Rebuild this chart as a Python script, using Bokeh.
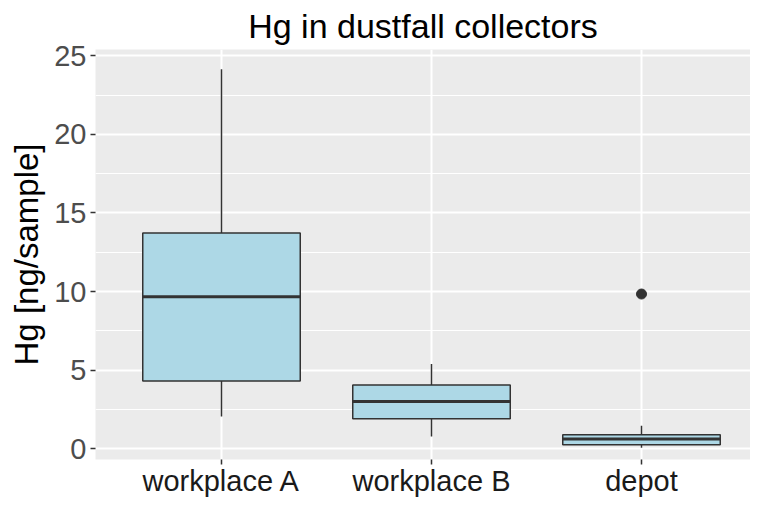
from bokeh.plotting import figure
from bokeh.models import Range1d, FixedTicker, ColumnDataSource
from bokeh.embed import file_html
from bokeh.resources import INLINE

# ---- data ----
categories = ["workplace A", "workplace B", "depot"]
positions = [1, 2, 3]
whisker_low = [2.04, 0.78, 0.05]
q1 = [4.3, 1.9, 0.25]
median = [9.67, 3.0, 0.61]
q3 = [13.73, 4.05, 0.89]
whisker_high = [24.15, 5.38, 1.46]
outlier_x = [3]
outlier_y = [9.84]
y_ticks = [0, 5, 10, 15, 20, 25]
y_minor = [2.5, 7.5, 12.5, 17.5, 22.5]

BOX_W = 0.75
FONT = "Liberation Sans"

src = ColumnDataSource(dict(
    x=positions, lo=whisker_low, q1=q1, med=median, q3=q3, hi=whisker_high,
    left=[p - BOX_W / 2 for p in positions],
    right=[p + BOX_W / 2 for p in positions],
))

p = figure(width=750, height=500, output_backend="svg", toolbar_location=None,
           x_range=Range1d(0.4, 0.4 + 655 / 210), y_range=Range1d(-0.69, 25.4),
           min_border_left=95, min_border_right=0, min_border_top=46, min_border_bottom=41,
           title="Hg in dustfall collectors")

p.background_fill_color = "#EBEBEB"
p.border_fill_color = "white"
p.outline_line_color = None

# title
p.title.text_font = FONT
p.title.text_font_size = "34px"
p.title.text_font_style = "normal"
p.title.text_color = "black"
p.title.align = "center"
p.title.standoff = 9

# grids
p.ygrid.ticker = FixedTicker(ticks=y_ticks, minor_ticks=y_minor)
p.ygrid.grid_line_color = "white"
p.ygrid.grid_line_width = 2
p.ygrid.minor_grid_line_color = "white"
p.ygrid.minor_grid_line_width = 1
p.xgrid.ticker = FixedTicker(ticks=positions)
p.xgrid.grid_line_color = "white"
p.xgrid.grid_line_width = 2

# axes
p.yaxis.ticker = FixedTicker(ticks=y_ticks)
p.xaxis.ticker = FixedTicker(ticks=positions)
p.xaxis.major_label_overrides = {pos: c for pos, c in zip(positions, categories)}
for ax in (p.xaxis[0], p.yaxis[0]):
    ax.axis_line_color = None
    ax.major_tick_line_color = "#333333"
    ax.major_tick_line_width = 1.5
    ax.major_tick_out = 5
    ax.major_tick_in = 0
    ax.minor_tick_line_color = None
    ax.major_label_text_font = FONT
    ax.major_label_text_font_size = "29px"
p.yaxis.major_label_text_color = "#4D4D4D"
p.yaxis.major_label_standoff = 4
p.xaxis.major_label_text_color = "#1A1A1A"
p.xaxis.major_label_standoff = 0
p.yaxis.axis_label = "Hg [ng/sample]"
p.yaxis.axis_label_text_font = FONT
p.yaxis.axis_label_text_font_size = "33px"
p.yaxis.axis_label_text_font_style = "normal"
p.yaxis.axis_label_text_color = "black"
p.yaxis.axis_label_standoff = 6

# whiskers
p.segment(x0="x", y0="q3", x1="x", y1="hi", source=src, line_color="#333333", line_width=1.5)
p.segment(x0="x", y0="lo", x1="x", y1="q1", source=src, line_color="#333333", line_width=1.5)
# boxes
p.quad(left="left", right="right", bottom="q1", top="q3", source=src,
       fill_color="#ADD8E6", line_color="#333333", line_width=1.5)
# medians
p.segment(x0="left", y0="med", x1="right", y1="med", source=src,
          line_color="#333333", line_width=3)
# outliers
p.scatter(outlier_x, outlier_y, size=10, fill_color="#333333", line_color="#333333")

open("out.html", "w").write(file_html(p, INLINE))
